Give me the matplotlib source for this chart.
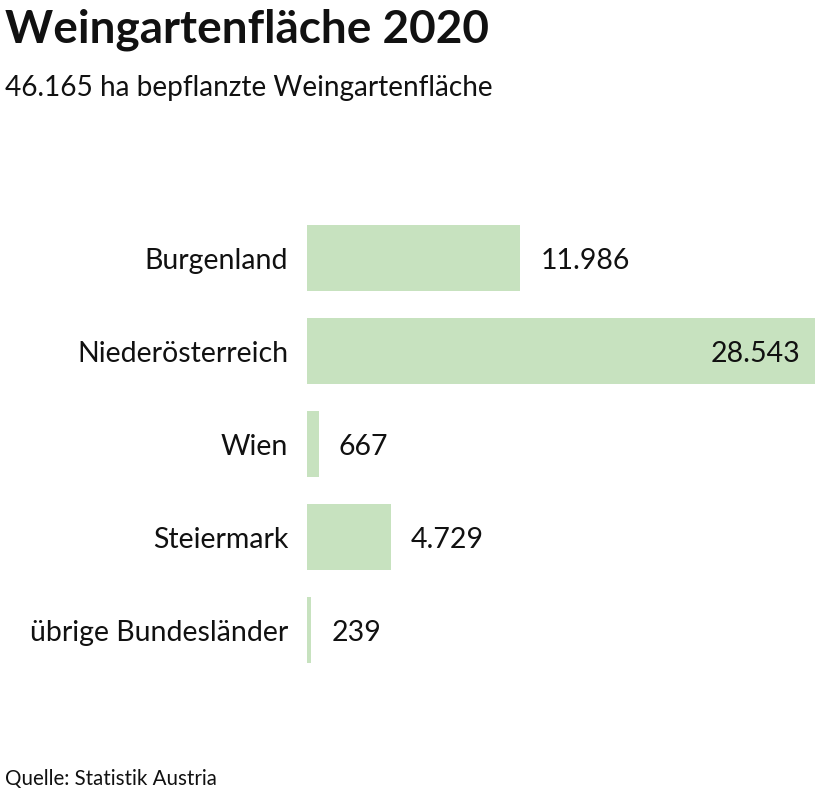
import matplotlib.pyplot as plt

# data
regions = ['Burgenland', 'Niederösterreich', 'Wien', 'Steiermark', 'übrige Bundesländer']
area_ha = [11986, 28543, 667, 4729, 239]
total_ha = 46165

def de_fmt(v):
    return f'{v:,}'.replace(',', '.')

plt.rcParams['font.family'] = ['Lato', 'DejaVu Sans']

fig = plt.figure(figsize=(8.17, 7.92), dpi=100)
ax = fig.add_axes([307/817, 1 - 663/792, (815 - 307)/817, (663 - 225)/792])

h = 66/93
y = list(range(len(regions)))
ax.barh(y, area_ha, height=h, color='#c7e2bf')
ax.set_xlim(0, max(area_ha))
ax.set_ylim(len(regions) - 1 + h/2, -h/2)
ax.axis('off')

fs = 20.5
for yi, name, v in zip(y, regions, area_ha):
    ax.annotate(name, (0, yi), xytext=(-19, -3), textcoords='offset pixels',
                ha='right', va='center', fontsize=fs, color='#111111')
    if v > 0.8 * max(area_ha):
        ax.annotate(de_fmt(v), (v, yi), xytext=(-15, -3), textcoords='offset pixels',
                    ha='right', va='center', fontsize=fs, color='#111111')
    else:
        ax.annotate(de_fmt(v), (v, yi), xytext=(20, -3), textcoords='offset pixels',
                    ha='left', va='center', fontsize=fs, color='#111111')

fig.text(5/817, 1 - 30/792, 'Weingartenfläche 2020', fontsize=33, fontweight='bold',
         ha='left', va='center', color='#111111')
fig.text(5/817, 1 - 88/792, f'{de_fmt(total_ha)} ha bepflanzte Weingartenfläche',
         fontsize=20.2, ha='left', va='center', color='#111111')
fig.text(5/817, 1 - 779/792, 'Quelle: Statistik Austria', fontsize=14.8,
         ha='left', va='center', color='#111111')

fig.savefig('out.png', dpi=100)
